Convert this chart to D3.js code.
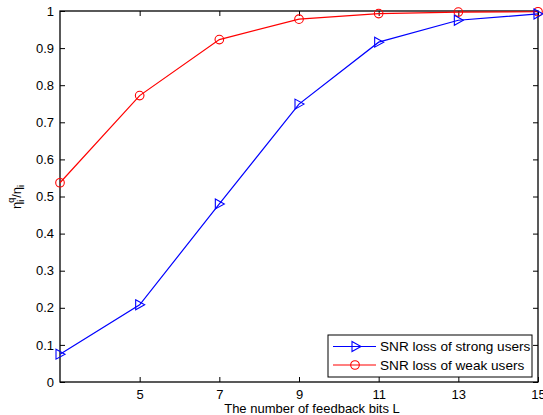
<!DOCTYPE html>
<html><head><meta charset="utf-8">
<script src="https://cdn.jsdelivr.net/npm/d3@7"></script>
<style>body{margin:0;background:#fff;} svg{display:block;font-family:"Liberation Sans",Arial,sans-serif;}</style>
</head><body><svg id="c" width="543" height="415"></svg>
<script>
const bits = [3, 5, 7, 9, 11, 13, 15];
const strongUsers = [0.075, 0.208, 0.480, 0.749, 0.916, 0.975, 0.992];
const weakUsers = [0.537, 0.772, 0.923, 0.978, 0.993, 0.997, 0.998];
const xTicks = [5, 7, 9, 11, 13, 15];
const yTicks = [0, 0.1, 0.2, 0.3, 0.4, 0.5, 0.6, 0.7, 0.8, 0.9, 1];
const seriesNames = ["SNR loss of strong users", "SNR loss of weak users"];

const FS = 13;
const svg = d3.select("#c");
const L = 60, R = 538, T = 11, B = 382;
const x = d3.scaleLinear().domain([3, 15]).range([L, R]);
const y = d3.scaleLinear().domain([0, 1]).range([B, T]);

svg.append("rect").attr("x", 0).attr("y", 0).attr("width", 543).attr("height", 415).attr("fill", "#fff");

const fmtY = d => String(+d.toFixed(1));
const tl = 5;
const gx = svg.append("g").attr("transform", `translate(0,${B})`)
  .call(d3.axisBottom(x).tickValues(xTicks).tickSizeInner(-tl).tickSizeOuter(0).tickPadding(7));
const gxt = svg.append("g").attr("transform", `translate(0,${T})`)
  .call(d3.axisTop(x).tickValues(xTicks).tickSizeInner(-tl).tickSizeOuter(0).tickFormat(""));
const gy = svg.append("g").attr("transform", `translate(${L},0)`)
  .call(d3.axisLeft(y).tickValues(yTicks).tickSizeInner(-tl).tickSizeOuter(0).tickPadding(6).tickFormat(fmtY));
const gyr = svg.append("g").attr("transform", `translate(${R},0)`)
  .call(d3.axisRight(y).tickValues(yTicks).tickSizeInner(-tl).tickSizeOuter(0).tickFormat(""));
[gx, gxt, gy, gyr].forEach(g => {
  g.select(".domain").remove();
  g.selectAll("line").attr("stroke", "#000").attr("stroke-width", 1);
  g.selectAll("text").attr("fill", "#000").attr("font-size", FS).attr("font-family", "Liberation Sans, Arial, sans-serif");
});
gx.selectAll("text").attr("dy", "0.75em");

svg.append("rect").attr("x", L).attr("y", T).attr("width", R - L).attr("height", B - T)
  .attr("fill", "none").attr("stroke", "#000").attr("stroke-width", 1.3);

const line = d3.line().x(d => x(d[0])).y(d => y(d[1]));
const tri = (cx, cy) => `M${cx - 4},${cy - 5}L${cx + 5},${cy}L${cx - 4},${cy + 5}Z`;

function drawSeries(vals, color, marker) {
  const pts = bits.map((b, i) => [b, vals[i]]);
  svg.append("path").attr("d", line(pts)).attr("fill", "none").attr("stroke", color).attr("stroke-width", 1.2);
  pts.forEach(p => {
    if (marker === "tri") {
      svg.append("path").attr("d", tri(x(p[0]), y(p[1]))).attr("fill", "none").attr("stroke", color).attr("stroke-width", 1.1);
    } else {
      svg.append("circle").attr("cx", x(p[0])).attr("cy", y(p[1])).attr("r", 4.3).attr("fill", "none").attr("stroke", color).attr("stroke-width", 1.1);
    }
  });
}
drawSeries(weakUsers, "#ff0000", "circ");
drawSeries(strongUsers, "#0000ff", "tri");

// legend
const lg = svg.append("g");
lg.append("rect").attr("x", 328).attr("y", 335).attr("width", 204).attr("height", 42)
  .attr("fill", "#fff").attr("stroke", "#000").attr("stroke-width", 1);
const rows = [{c: "#0000ff", m: "tri", yy: 346.5}, {c: "#ff0000", m: "circ", yy: 365}];
rows.forEach((r, i) => {
  lg.append("line").attr("x1", 333).attr("x2", 376).attr("y1", r.yy).attr("y2", r.yy).attr("stroke", r.c).attr("stroke-width", 1.2);
  if (r.m === "tri") lg.append("path").attr("d", tri(356, r.yy)).attr("fill", "none").attr("stroke", r.c).attr("stroke-width", 1.1);
  else lg.append("circle").attr("cx", 355).attr("cy", r.yy).attr("r", 4.3).attr("fill", "none").attr("stroke", r.c).attr("stroke-width", 1.1);
  lg.append("text").attr("x", 380).attr("y", r.yy).attr("dy", "0.36em").attr("font-size", 13.6).attr("fill", "#000").text(seriesNames[i]);
});

// axis labels
svg.append("text").attr("x", (L + R) / 2 + 13).attr("y", 413).attr("text-anchor", "middle").attr("font-size", FS).attr("fill", "#000")
  .text("The number of feedback bits L");
const yl = svg.append("text").attr("transform", "translate(21,197) rotate(-90)").attr("text-anchor", "middle").attr("font-size", FS).attr("fill", "#000");
yl.append("tspan").text("η");
yl.append("tspan").attr("font-size", 9).attr("dy", 3).text("i");
yl.append("tspan").attr("font-size", 9).attr("dy", -10).attr("dx", -3).text("q");
yl.append("tspan").attr("dy", 7).text("/η");
yl.append("tspan").attr("font-size", 9).attr("dy", 3).text("i");
</script></body></html>
